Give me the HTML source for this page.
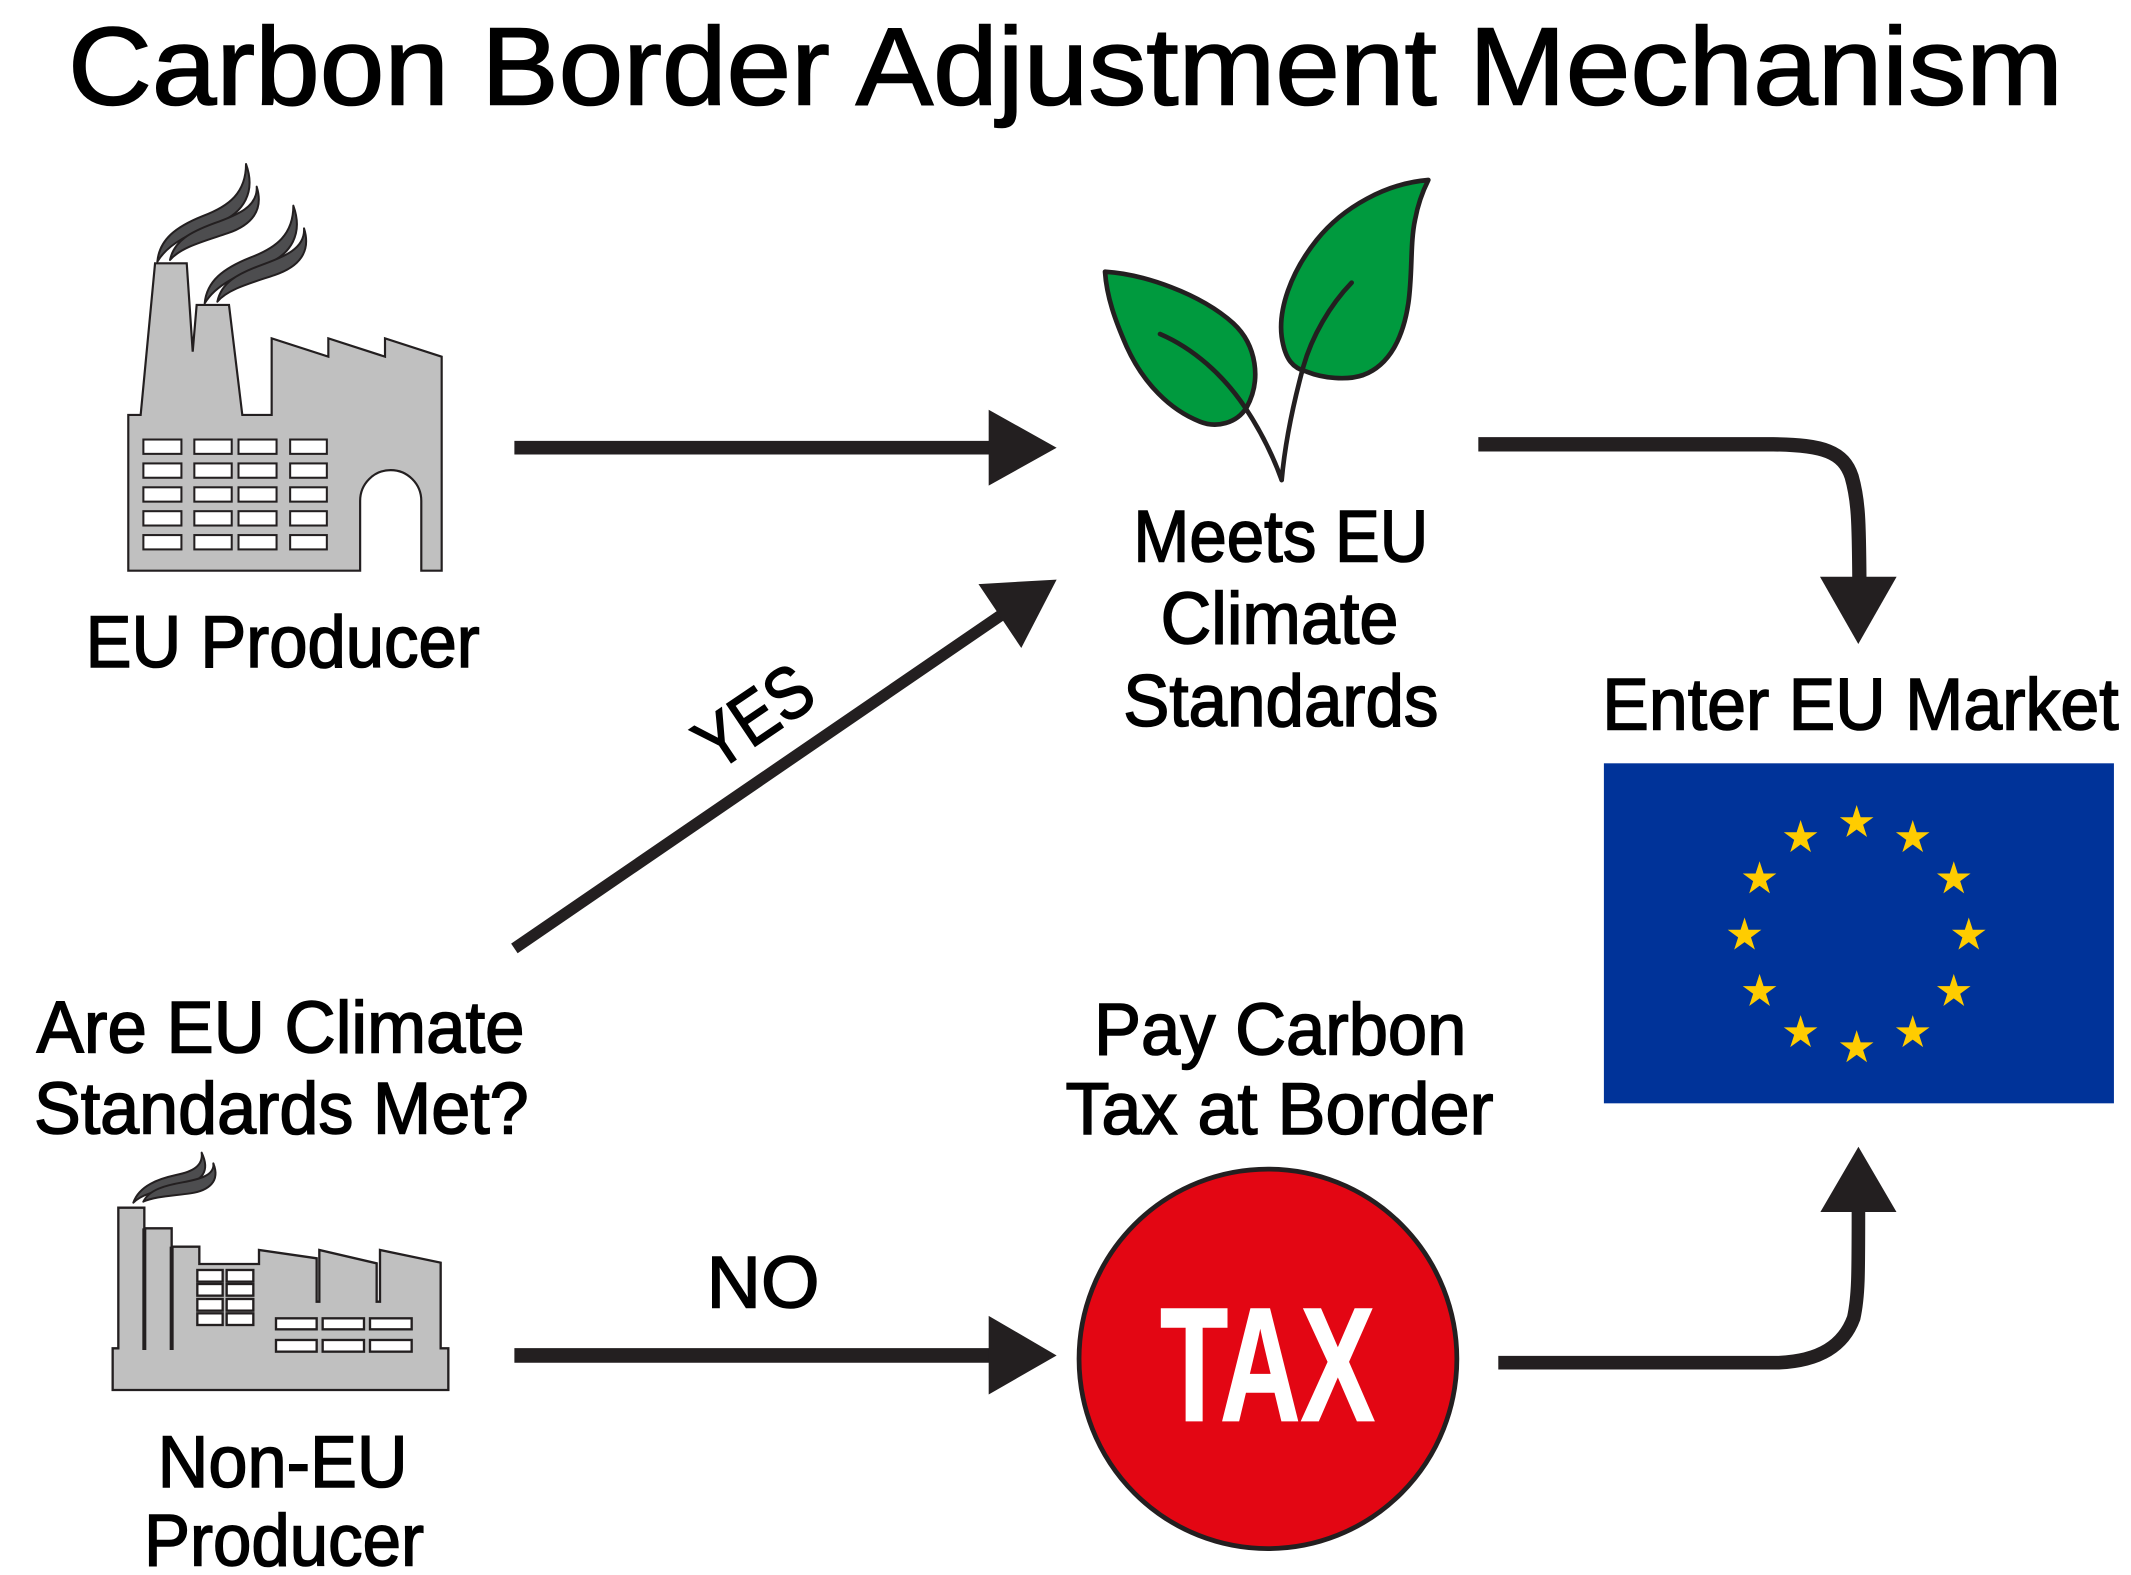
<!DOCTYPE html>
<html>
<head>
<meta charset="utf-8">
<style>
  html,body{margin:0;padding:0;background:#ffffff;}
  svg{display:block;}
  .t{font-family:"Liberation Sans",Arial,sans-serif;fill:#000;stroke:#000;stroke-width:1.15;}
</style>
</head>
<body>
<svg width="2131" height="1575" viewBox="0 0 1568.06 1153.85" preserveAspectRatio="none" xmlns="http://www.w3.org/2000/svg">
  <rect x="0" y="0" width="1568.06" height="1153.85" fill="#ffffff"/>

  <!-- Title -->
  <text class="t" x="50" y="76.5" font-size="81" textLength="1468" lengthAdjust="spacingAndGlyphs" stroke-width="2">Carbon Border Adjustment Mechanism</text>

  <!-- EU factory body -->
  <path d="M94.4,304 L103.5,304 L114.1,192.9 L137.4,192.9 L141.8,257.6 L144.7,223.4 L168.5,223.4 L178.3,304 L199.9,304 L199.9,247.9 L241.6,261.3 L241.6,247.9 L283.3,261.3 L283.3,247.9 L325,261.3 L325,418.1 L310,418.1 L310,366.9 A22.5,22.5 0 0 0 265,366.9 L265,418.1 L94.4,418.1 Z" fill="#c0c0c0" stroke="#231f20" stroke-width="1.6" stroke-linejoin="miter"/>
  <g fill="#ffffff" stroke="#231f20" stroke-width="1.5">
    <rect x="105.5" y="322" width="28" height="10.5"/><rect x="143" y="322" width="27.5" height="10.5"/><rect x="175.5" y="322" width="28" height="10.5"/><rect x="213.5" y="322" width="27" height="10.5"/>
    <rect x="105.5" y="339.5" width="28" height="10.5"/><rect x="143" y="339.5" width="27.5" height="10.5"/><rect x="175.5" y="339.5" width="28" height="10.5"/><rect x="213.5" y="339.5" width="27" height="10.5"/>
    <rect x="105.5" y="357" width="28" height="10.5"/><rect x="143" y="357" width="27.5" height="10.5"/><rect x="175.5" y="357" width="28" height="10.5"/><rect x="213.5" y="357" width="27" height="10.5"/>
    <rect x="105.5" y="374.5" width="28" height="10.5"/><rect x="143" y="374.5" width="27.5" height="10.5"/><rect x="175.5" y="374.5" width="28" height="10.5"/><rect x="213.5" y="374.5" width="27" height="10.5"/>
    <rect x="105.5" y="392" width="28" height="10.5"/><rect x="143" y="392" width="27.5" height="10.5"/><rect x="175.5" y="392" width="28" height="10.5"/><rect x="213.5" y="392" width="27" height="10.5"/>
  </g>
  <!-- EU factory smoke -->
  <g transform="translate(88.3,109.9) scale(0.2453,0.2442)" fill="#4d4d4f" stroke="#231f20" stroke-width="6" stroke-linejoin="round">
    <g>
      <path d="M112,335 C118,268 168,230 248,198 C328,168 378,128 378,42 C408,125 372,188 296,218 C216,248 146,278 112,335 Z"/>
      <path d="M150,330 C162,272 212,246 282,220 C352,195 414,170 410,110 C432,180 396,225 322,250 C248,275 182,292 150,330 Z"/>
    </g>
    <g transform="translate(142,125)">
      <path d="M112,335 C118,268 168,230 248,198 C328,168 378,128 378,42 C408,125 372,188 296,218 C216,248 146,278 112,335 Z"/>
      <path d="M150,330 C162,272 212,246 282,220 C352,195 414,170 410,110 C432,180 396,225 322,250 C248,275 182,292 150,330 Z"/>
    </g>
  </g>

  <text class="t" x="63" y="488.5" font-size="54" textLength="290" lengthAdjust="spacingAndGlyphs">EU Producer</text>

  <!-- Arrow EU -> Meets -->
  <line x1="378.5" y1="328" x2="732" y2="328" stroke="#231f20" stroke-width="10"/>
  <polygon points="727.5,300.2 777.5,328 727.5,355.8" fill="#231f20"/>

  <!-- Leaves -->
  <g transform="translate(802.06,124.54) scale(0.24528,0.2442)" stroke="#231f20" stroke-width="14" stroke-linecap="round" stroke-linejoin="round">
    <path d="M45,305 C160,312 330,370 430,460 C500,525 515,630 470,712 C440,760 380,775 330,755 C240,720 160,640 110,530 C75,450 50,380 45,305 Z" fill="#009a3e"/>
    <path d="M1015,30 C890,40 760,110 680,210 C600,310 565,420 575,500 C585,570 610,595 650,605 C700,625 770,632 820,615 C900,585 940,500 955,400 C968,310 960,220 975,150 C985,95 1000,60 1015,30 Z" fill="#009a3e"/>
    <path d="M210,492 C310,535 400,615 465,712 C510,780 550,860 575,930" fill="none"/>
    <path d="M785,338 C720,405 665,500 640,590 C610,700 585,820 575,930" fill="none"/>
  </g>

  <text class="t" x="834" y="411.5" font-size="54" textLength="217" lengthAdjust="spacingAndGlyphs">Meets EU</text>
  <text class="t" x="854" y="471.5" font-size="54" textLength="175" lengthAdjust="spacingAndGlyphs">Climate</text>
  <text class="t" x="826.5" y="532" font-size="54" textLength="232" lengthAdjust="spacingAndGlyphs">Standards</text>

  <!-- Arrow Meets -> Market -->
  <path d="M1087.8,325.5 L1304.9,325.5 C1341.7,326 1356.4,330.9 1362.5,349.2 C1367.4,366.3 1367.9,381 1368.2,426" fill="none" stroke="#231f20" stroke-width="10.5"/>
  <polygon points="1339.2,422.5 1395.6,422.5 1367.4,471.8" fill="#231f20"/>

  <text class="t" x="1179" y="534.5" font-size="54" textLength="380" lengthAdjust="spacingAndGlyphs">Enter EU Market</text>

  <!-- EU flag -->
  <rect x="1180.2" y="559.2" width="375.3" height="249.1" fill="#003399"/>
  <defs>
    <polygon id="st" points="0,-13 2.921,-4.021 12.364,-4.017 4.727,1.536 7.641,10.517 0,4.97 -7.641,10.517 -4.727,1.536 -12.364,-4.017 -2.921,-4.021" fill="#ffcc00"/>
  </defs>
  <use href="#st" x="1366.2" y="602.7"/>
  <use href="#st" x="1407.45" y="613.75"/>
  <use href="#st" x="1437.65" y="643.95"/>
  <use href="#st" x="1448.7" y="685.2"/>
  <use href="#st" x="1437.65" y="726.45"/>
  <use href="#st" x="1407.45" y="756.65"/>
  <use href="#st" x="1366.2" y="767.7"/>
  <use href="#st" x="1324.95" y="756.65"/>
  <use href="#st" x="1294.75" y="726.45"/>
  <use href="#st" x="1283.7" y="685.2"/>
  <use href="#st" x="1294.75" y="643.95"/>
  <use href="#st" x="1324.95" y="613.75"/>

  <!-- YES arrow -->
  <line x1="378.5" y1="694.8" x2="742" y2="447" stroke="#231f20" stroke-width="8.5"/>
  <polygon points="777.5,424.6 720,427.9 751.5,474.7" fill="#231f20"/>
  <text class="t" transform="translate(527,566) rotate(-34)" x="0" y="0" font-size="54" textLength="92" lengthAdjust="spacingAndGlyphs">YES</text>

  <!-- Question -->
  <text class="t" x="27" y="771" font-size="54" textLength="359" lengthAdjust="spacingAndGlyphs">Are EU Climate</text>
  <text class="t" x="25" y="830.5" font-size="54" textLength="364" lengthAdjust="spacingAndGlyphs">Standards Met?</text>

  <!-- Non-EU factory -->
  <g transform="translate(73.58,835.16) scale(0.24528,0.2442)">
    <path d="M38,625 L55,625 L55,203 L133,203 L133,265 L215,265 L215,320 L298,320 L298,372 L477,372 L477,330 L650,355 L650,485 L658,485 L658,330 L830,370 L830,485 L840,485 L840,330 L1022,368 L1022,625 L1045,625 L1045,750 L38,750 Z" fill="#c0c0c0" stroke="#231f20" stroke-width="7" stroke-linejoin="miter"/>
    <line x1="133" y1="265" x2="133" y2="630" stroke="#231f20" stroke-width="12"/>
    <line x1="215" y1="320" x2="215" y2="630" stroke="#231f20" stroke-width="12"/>
    <g fill="#ffffff" stroke="#231f20" stroke-width="7">
      <rect x="292" y="390" width="76" height="35"/><rect x="380" y="390" width="80" height="35"/>
      <rect x="292" y="432" width="76" height="35"/><rect x="380" y="432" width="80" height="35"/>
      <rect x="292" y="477" width="76" height="35"/><rect x="380" y="477" width="80" height="35"/>
      <rect x="292" y="520" width="76" height="35"/><rect x="380" y="520" width="80" height="35"/>
      <rect x="528" y="535" width="122" height="33"/><rect x="668" y="535" width="124" height="33"/><rect x="810" y="535" width="125" height="33"/>
      <rect x="528" y="600" width="122" height="35"/><rect x="668" y="600" width="124" height="35"/><rect x="810" y="600" width="125" height="35"/>
    </g>
    <g fill="#4d4d4f" stroke="#231f20" stroke-width="6" stroke-linejoin="round">
      <path d="M100,188 C118,136 178,116 228,105 C278,95 310,78 305,38 C332,95 305,122 252,135 C192,150 132,156 100,188 Z"/>
      <path d="M130,185 C148,148 198,136 248,127 C298,118 345,106 340,70 C362,125 325,152 272,160 C212,168 162,170 130,185 Z"/>
    </g>
  </g>

  <text class="t" x="116" y="1089.5" font-size="54" textLength="184" lengthAdjust="spacingAndGlyphs">Non-EU</text>
  <text class="t" x="106" y="1147" font-size="54" textLength="206" lengthAdjust="spacingAndGlyphs">Producer</text>

  <!-- NO arrow -->
  <text class="t" x="520" y="958" font-size="54" textLength="83" lengthAdjust="spacingAndGlyphs">NO</text>
  <line x1="378.5" y1="993" x2="732" y2="993" stroke="#231f20" stroke-width="10.7"/>
  <polygon points="727.5,964 777.5,993 727.5,1021.6" fill="#231f20"/>

  <!-- Pay Carbon Tax -->
  <text class="t" x="805" y="772.5" font-size="54" textLength="274" lengthAdjust="spacingAndGlyphs">Pay Carbon</text>
  <text class="t" x="784" y="830.7" font-size="54" textLength="315" lengthAdjust="spacingAndGlyphs">Tax at Border</text>

  <!-- TAX circle -->
  <circle cx="933" cy="995.5" r="139" fill="#e30613" stroke="#231f20" stroke-width="3.5"/>
  <text x="853.6" y="1040.8" font-family="'Liberation Sans Narrow','Liberation Sans',Arial,sans-serif" font-weight="bold" font-size="119" fill="#ffffff" stroke="#ffffff" stroke-width="1" textLength="158.2" lengthAdjust="spacingAndGlyphs">TAX</text>

  <!-- Arrow TAX -> Market -->
  <path d="M1102.5,998.3 L1309,998.3 C1339,997 1356.5,986 1364,965.6 C1367.5,950 1367.5,935 1367.5,886" fill="none" stroke="#231f20" stroke-width="10"/>
  <polygon points="1339.5,887.9 1395.5,887.9 1367.5,840.1" fill="#231f20"/>
</svg>
</body>
</html>
